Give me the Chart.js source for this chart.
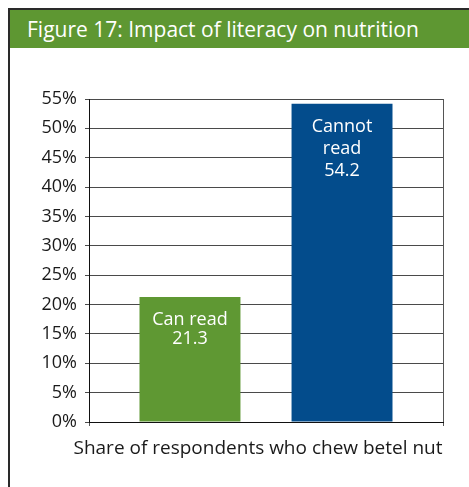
<!DOCTYPE html>
<html>
<head>
<meta charset="utf-8">
<script src="https://cdn.jsdelivr.net/npm/chart.js@4.4.1/dist/chart.umd.min.js"></script>
<style>
    body { margin: 0; background: #ffffff; }
    #frame {
        position: absolute; left: 8px; top: 8px;
        width: 461px; height: 479px;
        border-left: 2px solid #2a2a2a; border-top: 2px solid #2a2a2a;
    }
    #title {
        height: 38px; line-height: 38px;
        background: #5e9732; color: #ffffff;
        font-family: "Open Sans", sans-serif; font-size: 21px;
        padding-left: 17px; white-space: nowrap;
    }
    #wrap { position: absolute; left: 0; top: 0; width: 469px; height: 487px; }
</style>
</head>
<body>
<div id="frame"><div id="title">Figure 17: Impact of literacy on nutrition</div></div>
<div id="wrap"><canvas id="chart"></canvas></div>
<script>
// one category, two groups of respondents
var categories = ["Share of respondents who chew betel nut"];
var groupNames = ["Can read", "Cannot read"];
var canReadValues = [21.3];
var cannotReadValues = [54.2];
var barLines = [["Can read"], ["Cannot", "read"]];
var tickLabels = ["0%", "5%", "10%", "15%", "20%", "25%", "30%", "35%", "40%", "45%", "50%", "55%"];

var FONT = "'Open Sans', sans-serif";

// writes the group name and value inside the top of each bar
var insideLabels = {
    id: "insideLabels",
    afterDatasetsDraw: function (chart) {
        var ctx = chart.ctx;
        ctx.save();
        ctx.fillStyle = "#ffffff";
        ctx.font = "18px " + FONT;
        ctx.textAlign = "center";
        ctx.textBaseline = "alphabetic";
        for (var d = 0; d < chart.data.datasets.length; d++) {
            var bar = chart.getDatasetMeta(d).data[0];
            var lines = barLines[d].concat([String(chart.data.datasets[d].data[0])]);
            var lineH = d === 0 ? 19 : 22;
            for (var i = 0; i < lines.length; i++) {
                ctx.fillText(lines[i], bar.x, bar.y + 28 + i * lineH);
            }
        }
        ctx.restore();
    }
};

new Chart(document.getElementById("chart"), {
    type: "bar",
    data: {
        labels: categories,
        datasets: [{
            label: groupNames[0],
            data: canReadValues,
            backgroundColor: "#5f9833",
            barPercentage: 0.664,
            categoryPercentage: 0.859
        }, {
            label: groupNames[1],
            data: cannotReadValues,
            backgroundColor: "#034c8c",
            barPercentage: 0.664,
            categoryPercentage: 0.859
        }]
    },
    options: {
        responsive: true,
        maintainAspectRatio: false,
        animation: false,
        layout: { padding: { top: 99, right: 26, left: 0, bottom: 0 } },
        plugins: {
            legend: { display: false },
            tooltip: { enabled: false }
        },
        scales: {
            x: {
                grid: { color: "#555555", tickLength: 4, lineWidth: 1 },
                border: { color: "#111111", width: 1 },
                ticks: {
                    color: "#1a1a1a",
                    font: { family: FONT, size: 19 },
                    padding: 11,
                    labelOffset: -8,
                    maxRotation: 0,
                    autoSkip: false
                },
                afterFit: function (scale) {
                    scale.height = 65;
                    // the long label may overhang the plot; keep the plot width fixed
                    scale.paddingLeft = 0;
                    scale.paddingRight = 0;
                }
            },
            y: {
                min: 0,
                max: 55,
                grid: { color: "#4a4a4a", tickLength: 4, lineWidth: 1 },
                border: { color: "#111111", width: 1 },
                ticks: {
                    stepSize: 5,
                    color: "#1a1a1a",
                    font: { family: FONT, size: 18 },
                    padding: 8,
                    callback: function (value) { return tickLabels[value / 5]; }
                },
                afterFit: function (scale) { scale.width = 89; }
            }
        }
    },
    plugins: [insideLabels]
});
</script>
</body>
</html>
